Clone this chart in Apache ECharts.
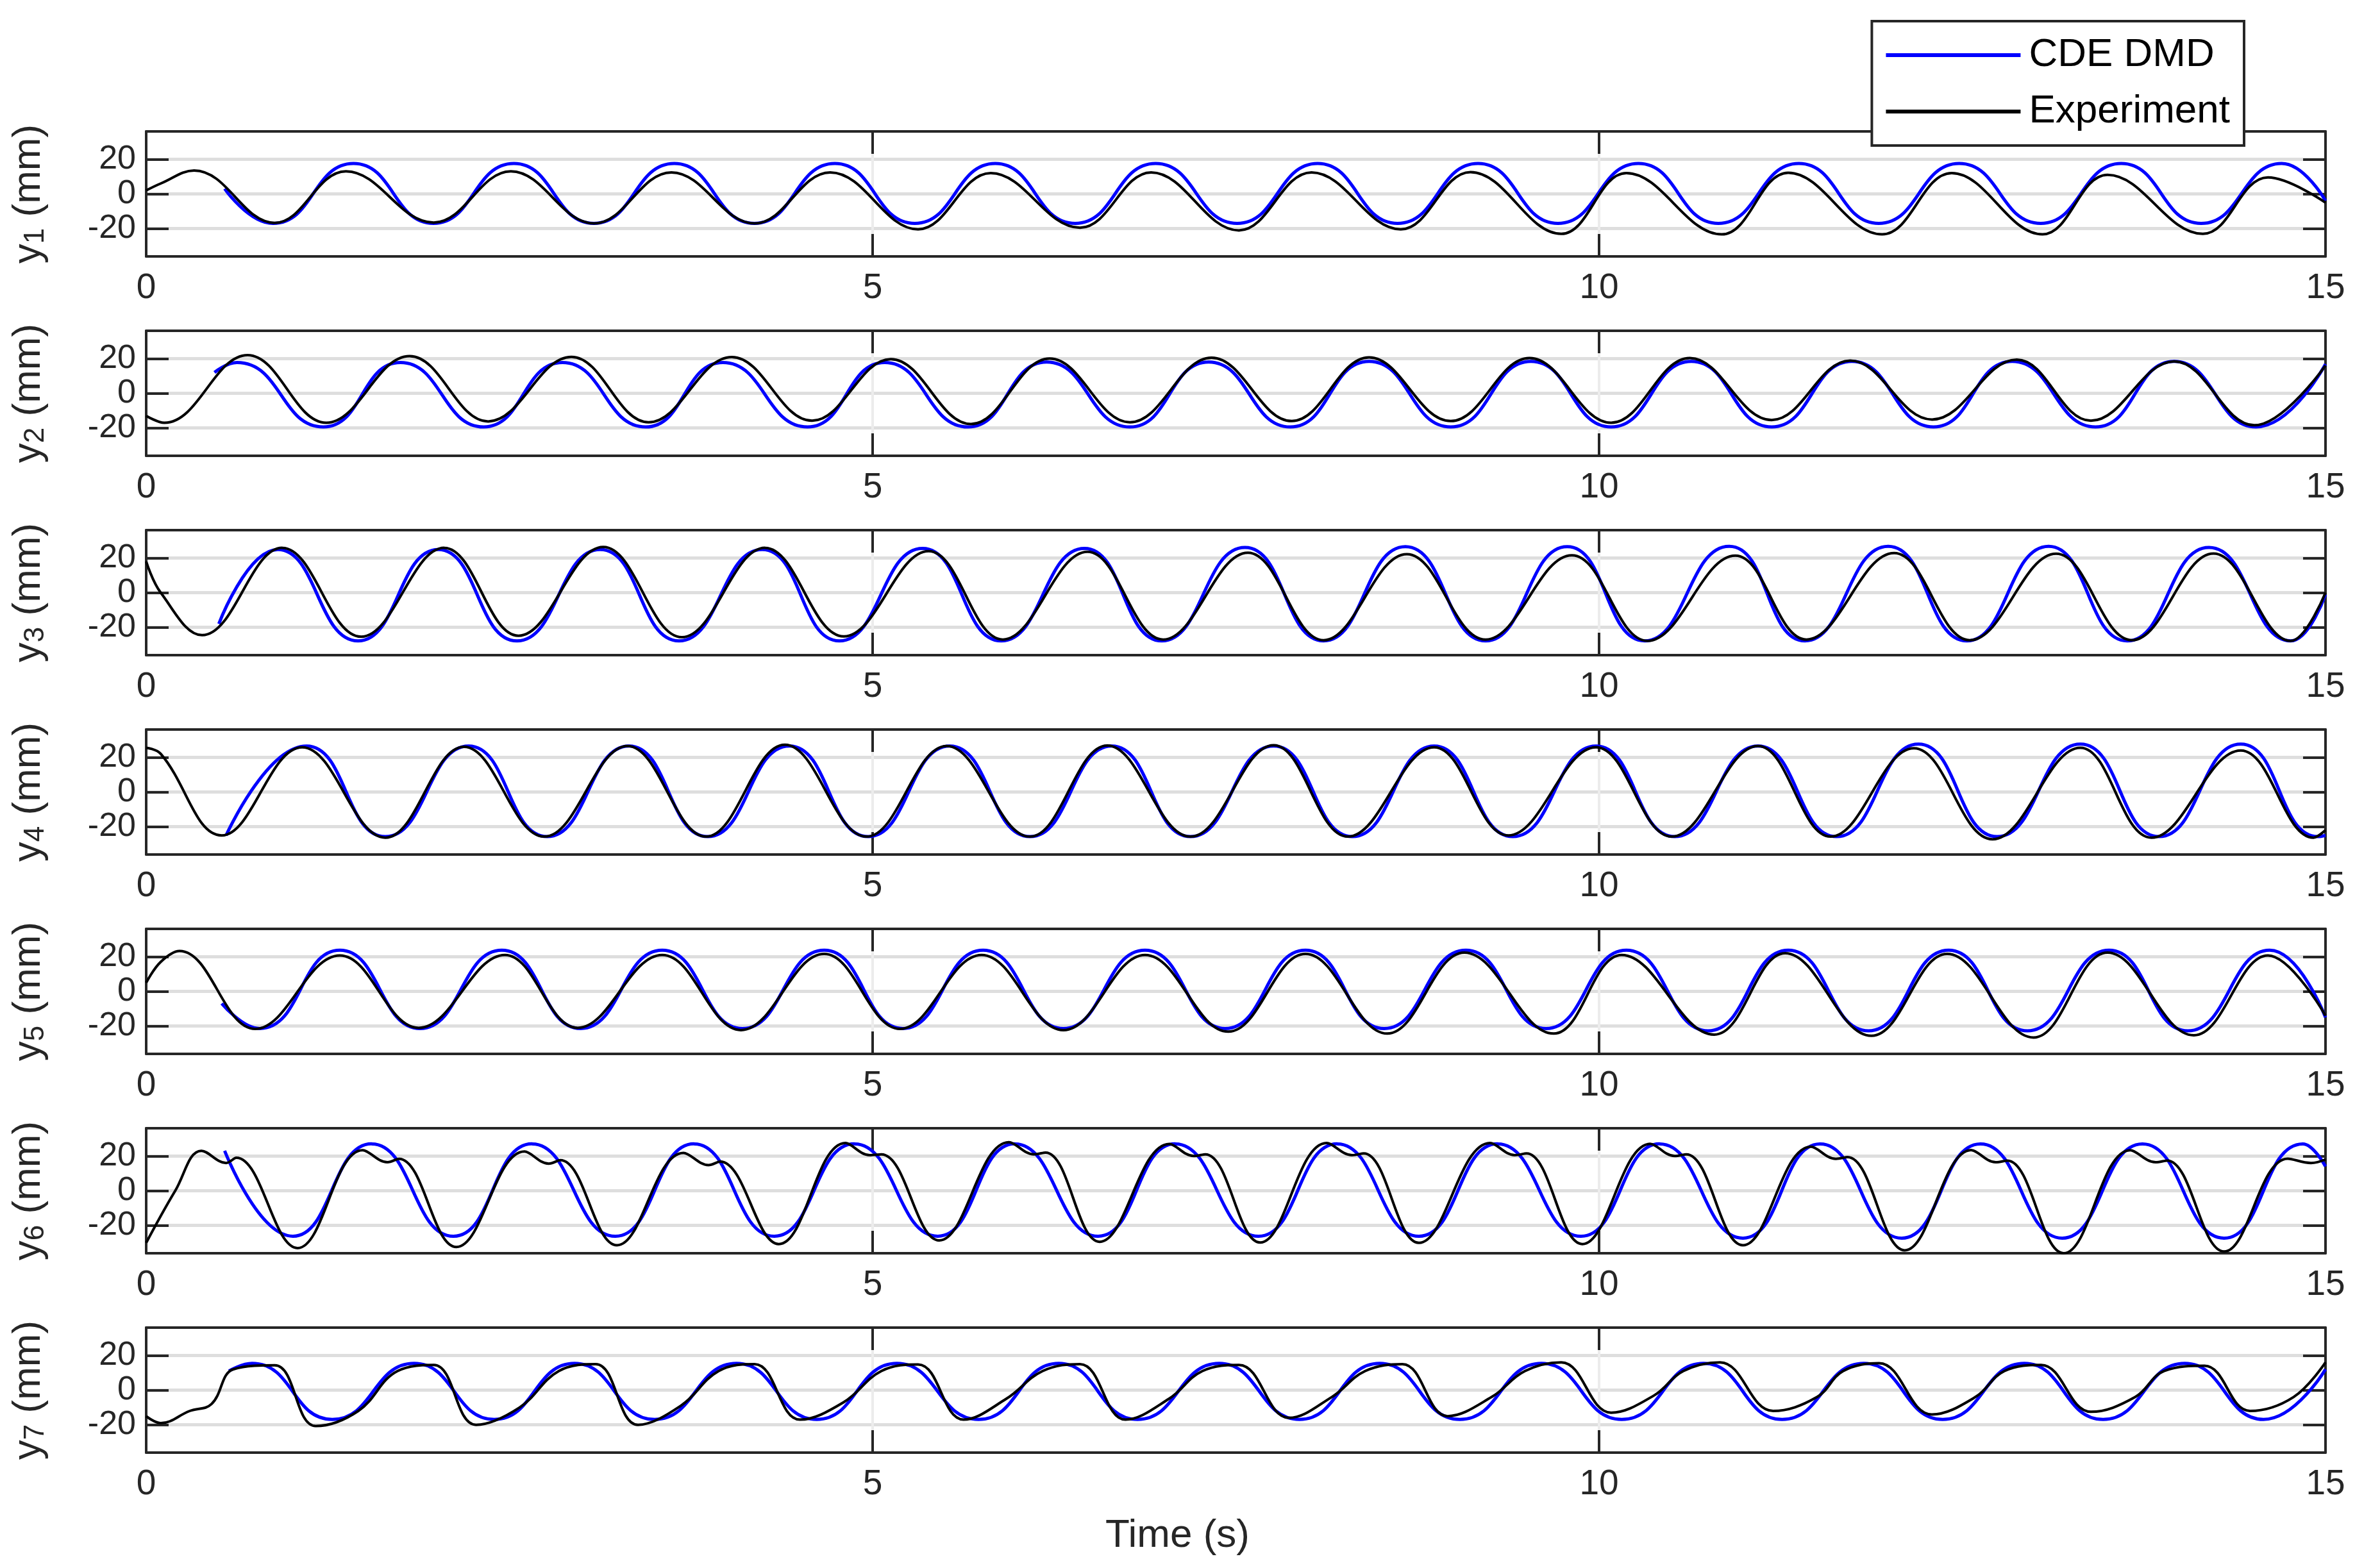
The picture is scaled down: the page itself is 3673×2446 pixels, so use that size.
<!DOCTYPE html>
<html>
<head>
<meta charset="utf-8">
<script src="https://cdn.jsdelivr.net/npm/echarts@6/dist/echarts.min.js"></script>
<style>html,body{margin:0;padding:0;background:#fff}#main{width:3673px;height:2446px}</style>
</head>
<body>
<div id="main"></div>
<script>
var chart = echarts.init(document.getElementById('main'));

// CDE DMD curves: [time (s), y (mm)] read at start, peaks, troughs, end
var b1 = [[0.54,3],[0.873,-17],[1.427,17.5],[1.977,-17],[2.531,17.5],[3.081,-17],[3.635,17.5],[4.186,-17],[4.74,17.5],[5.29,-17],[5.844,17.5],[6.394,-17],[6.948,17.5],[7.509,-17],[8.063,17.5],[8.613,-17],[9.167,17.5],[9.717,-17],[10.271,17.5],[10.821,-17],[11.375,17.5],[11.925,-17],[12.479,17.5],[13.04,-17],[13.594,17.5],[14.144,-17],[14.698,17.5],[15,-4]];
var b2 = [[0.47,12],[0.625,17.7],[1.219,-19.4],[1.75,17.7],[2.323,-19.4],[2.865,17.7],[3.438,-19.4],[3.969,17.7],[4.552,-19.4],[5.083,17.7],[5.656,-19.4],[6.198,18],[6.771,-19.4],[7.313,18],[7.875,-19.4],[8.417,18.4],[8.979,-19.4],[9.531,18.4],[10.083,-19.4],[10.635,18.4],[11.188,-19.4],[11.74,18.4],[12.302,-19.4],[12.844,18.4],[13.417,-19.4],[13.958,18.4],[14.521,-19.4],[15,16.8]];
var b3 = [[0.5,-18],[0.906,24.8],[1.458,-27.8],[2.01,24.8],[2.552,-27.8],[3.125,24.8],[3.667,-27.8],[4.24,24.8],[4.771,-27.8],[5.344,25.5],[5.885,-27.8],[6.458,25.5],[6.99,-27.8],[7.563,26],[8.104,-27.8],[8.667,26.5],[9.219,-27.8],[9.781,26.5],[10.313,-27.8],[10.896,26.7],[11.417,-27.8],[11.99,26.7],[12.531,-27.8],[13.094,26.7],[13.635,-27.8],[14.198,26],[14.76,-27.8],[15,-1]];
var b4 = [[0.55,-25],[1.104,26.5],[1.646,-25.7],[2.219,26.5],[2.76,-25.7],[3.323,26.5],[3.865,-25.7],[4.427,26.5],[4.969,-25.7],[5.531,26.5],[6.083,-25.7],[6.646,26.5],[7.188,-25.7],[7.76,26.5],[8.302,-25.7],[8.865,26.5],[9.406,-25.7],[9.979,26.5],[10.521,-25.7],[11.094,26.5],[11.635,-25.7],[12.198,27.6],[12.74,-25.7],[13.313,27.6],[13.854,-25.7],[14.417,27.6],[14.948,-25.7],[15,-25]];
var b5 = [[0.52,-7],[0.781,-21.4],[1.333,23.7],[1.885,-21.4],[2.448,23.7],[2.99,-21.4],[3.552,23.7],[4.104,-21.4],[4.667,23.7],[5.208,-21.4],[5.76,23.7],[6.313,-21.4],[6.875,23.7],[7.427,-21.4],[7.979,23.7],[8.521,-21.4],[9.083,23.7],[9.635,-21.4],[10.188,23.7],[10.75,-22.7],[11.302,23.7],[11.854,-22.7],[12.406,23.7],[12.948,-22.7],[13.51,23.7],[14.052,-22.7],[14.615,23.7],[15,-15]];
var b6 = [[0.54,23],[1.01,-26.2],[1.552,27],[2.115,-26.2],[2.656,27],[3.229,-26.2],[3.771,27],[4.323,-26.2],[4.875,27],[5.448,-26.2],[5.979,27],[6.552,-26.2],[7.083,27],[7.656,-26.2],[8.198,27],[8.76,-26.2],[9.302,27],[9.875,-26.2],[10.417,27],[10.99,-27.3],[11.521,27],[12.083,-27.3],[12.625,27],[13.188,-27.3],[13.74,27],[14.302,-27.3],[14.844,27],[15,14]];
var b7 = [[0.57,11],[0.729,15.4],[1.281,-16.9],[1.844,15.4],[2.396,-16.9],[2.948,15.4],[3.5,-16.9],[4.063,15.4],[4.615,-16.9],[5.167,15.4],[5.729,-16.9],[6.281,15.4],[6.823,-16.9],[7.385,15.4],[7.938,-16.9],[8.49,15.4],[9.042,-16.9],[9.604,15.4],[10.156,-16.9],[10.719,15.4],[11.26,-16.9],[11.823,15.4],[12.365,-16.9],[12.927,15.4],[13.469,-16.9],[14.031,15.4],[14.573,-16.9],[15,12]];

// Experiment curves
var e1 = [[0,2],[0.1,6],[0.33,13.5],[0.885,-16.7],[1.375,13],[1.979,-16.5],[2.51,13],[3.083,-17],[3.615,12.4],[4.188,-17],[4.708,12.4],[5.313,-20.4],[5.813,12],[6.427,-19.5],[6.917,12.4],[7.521,-21],[8.021,12.4],[8.635,-20.4],[9.115,12.6],[9.74,-23],[10.188,12],[10.844,-23.3],[11.302,12.2],[11.948,-23.3],[12.427,12],[13.052,-23.3],[13.5,11],[14.156,-23],[14.604,9.5],[15,-5]];
var e2 = [[0,-13],[0.125,-17],[0.698,22],[1.24,-17],[1.813,21.4],[2.354,-16.2],[2.927,21],[3.458,-16.7],[4.031,20.9],[4.583,-15.8],[5.125,19.7],[5.677,-17.7],[6.219,20],[6.771,-16.7],[7.333,20.5],[7.885,-16],[8.417,20.7],[8.979,-16],[9.521,20.3],[10.083,-17],[10.625,20.3],[11.188,-15.4],[11.729,18.8],[12.292,-15.1],[12.875,19.4],[13.385,-15.8],[13.958,18.4],[14.51,-18.4],[15,16]];
var e3 = [[0,18],[0.1,0],[0.385,-24.5],[0.9375,25.8],[1.479,-25.4],[2.052,25.8],[2.5625,-24.8],[3.146,26.3],[3.6875,-25.7],[4.26,25.8],[4.802,-25.2],[5.385,23.9],[5.896,-27],[6.479,23.5],[7.0,-27],[7.583,23],[8.104,-27.4],[8.677,22.2],[9.219,-27],[9.813,21.5],[10.333,-27.8],[10.938,21.3],[11.427,-27],[12.031,22.8],[12.552,-27.4],[13.146,22.4],[13.667,-27.4],[14.229,22.5],[14.76,-27.8],[15,0]];
var e4 = [[0,25.5],[0.1,22],[0.52,-25],[1.073,25.8],[1.646,-26.3],[2.1875,26],[2.74,-25.7],[3.3125,26.5],[3.854,-25.7],[4.396,27.2],[4.958,-25.7],[5.51,26.5],[6.083,-25.7],[6.615,26.8],[7.188,-25.7],[7.76,27],[8.271,-25.7],[8.865,25.8],[9.375,-25],[9.979,25.8],[10.5,-25.7],[11.094,26.5],[11.594,-25.7],[12.167,25.2],[12.708,-27.2],[13.313,25.5],[13.802,-26.3],[14.417,23.9],[14.917,-26.3],[15,-22]];
var e5 = [[0,5],[0.1,17],[0.23,23.3],[0.75,-21.6],[1.333,20.7],[1.875,-21],[2.469,21],[2.969,-21],[3.552,21],[4.094,-22.3],[4.667,21.6],[5.188,-21.6],[5.75,21],[6.313,-22.3],[6.875,21],[7.448,-23.2],[7.979,21.6],[8.542,-24.3],[9.073,22.3],[9.688,-24.3],[10.156,21],[10.792,-24.9],[11.281,22],[11.875,-25.6],[12.396,21.6],[12.99,-26.6],[13.5,22.3],[14.094,-25.3],[14.604,20.7],[15,-14]];
var e6 = [[0,-30],[0.2,0],[0.38,23],[0.55,16],[0.62,19],[1.042,-33],[1.49,23.4],[1.66,16.4],[1.74,18.4],[2.135,-32.4],[2.604,22.6],[2.77,15.6],[2.85,17.6],[3.24,-31.4],[3.698,21.8],[3.87,14.8],[3.95,16.8],[4.354,-30.7],[4.813,27.5],[4.98,20.5],[5.06,21],[5.458,-28.6],[5.938,28],[6.11,21],[6.19,22],[6.563,-29.4],[7.042,27],[7.21,20],[7.29,21],[7.667,-29.8],[8.125,27.5],[8.3,20.5],[8.38,21.5],[8.76,-30],[9.25,27.5],[9.42,20.5],[9.5,21.5],[9.885,-30.7],[10.354,27],[10.52,20],[10.6,21],[10.99,-31.4],[11.458,25.4],[11.63,18.4],[11.71,19.4],[12.104,-34.3],[12.563,23.4],[12.73,16.4],[12.81,17.4],[13.198,-36],[13.656,23.4],[13.83,16.4],[13.91,17.4],[14.302,-35],[14.74,18.5],[14.9,16],[15,18]];
var e7 = [[0,-15],[0.1,-19],[0.3,-12],[0.45,-8],[0.6,12],[0.885,14.3],[1.167,-20.7],[1.46,-12],[1.73,11],[1.98,14.5],[2.27,-20],[2.57,-10],[2.84,11],[3.094,15],[3.385,-20],[3.68,-9],[3.94,11],[4.188,15],[4.5,-17],[4.8,-7],[5.06,11],[5.313,14.8],[5.625,-17],[5.92,-5],[6.17,11],[6.427,15],[6.74,-17],[7.04,-5],[7.27,11],[7.521,14.5],[7.865,-16],[8.16,-4],[8.39,11],[8.646,15],[8.958,-15],[9.26,-4],[9.49,11],[9.74,16],[10.083,-13],[10.38,-3],[10.58,11],[10.833,16],[11.198,-12],[11.5,-4],[11.68,11],[11.927,15.5],[12.29,-14],[12.59,-4],[12.79,11],[13.042,14.5],[13.385,-12.5],[13.69,-4],[13.89,11],[14.167,14],[14.48,-12],[14.78,-4],[15,16]];

var dmd = [b1, b2, b3, b4, b5, b6, b7];
var exper = [e1, e2, e3, e4, e5, e6, e7];
var yTicks = [-20, 0, 20];

var txt = '#262626';
var font = 'Liberation Sans';
var grids = [], xAxes = [], yAxes = [], series = [];

for (var i = 0; i < 7; i++) {
    var gridTop = 205 + i * 311;
    grids.push({left: 228, right: 46, top: gridTop, height: 195});
    // bottom x axis with labels
    xAxes.push({
        type: 'value', gridIndex: i, min: 0, max: 15, interval: 5,
        axisLine: {onZero: false, lineStyle: {color: txt, width: 4}},
        axisTick: {inside: true, length: 35, lineStyle: {color: txt, width: 4}},
        axisLabel: {color: txt, fontSize: 55, fontFamily: font, margin: 22},
        splitLine: {show: true, lineStyle: {color: '#ececec', width: 4}}
    });
    // top x axis, frame only
    xAxes.push({
        type: 'value', gridIndex: i, min: 0, max: 15, interval: 5, position: 'top',
        axisLine: {onZero: false, lineStyle: {color: txt, width: 4}},
        axisTick: {inside: true, length: 35, lineStyle: {color: txt, width: 4}},
        axisLabel: {show: false}, splitLine: {show: false}
    });
    yAxes.push({
        type: 'value', gridIndex: i, min: -36, max: 36,
        name: '{a|y}{s|' + (i + 1) + '}{a| (mm)}',
        nameLocation: 'middle', nameRotate: 90, nameGap: 150,
        nameTextStyle: {
            rich: {
                a: {fontSize: 62, fontFamily: font, color: txt},
                s: {fontSize: 44, fontFamily: font, color: txt, verticalAlign: 'bottom', padding: [22, 0, 0, 0]}
            }
        },
        axisLine: {onZero: false, lineStyle: {color: txt, width: 4}},
        axisTick: {inside: true, length: 35, customValues: yTicks, lineStyle: {color: txt, width: 4}},
        axisLabel: {color: txt, fontSize: 52, lineHeight: 36, fontFamily: font, margin: 16, customValues: yTicks,
            interval: 0, hideOverlap: false, showMinLabel: true, showMaxLabel: true},
        splitLine: {show: true, lineStyle: {color: '#dedede', width: 5}}
    });
    yAxes.push({
        type: 'value', gridIndex: i, min: -36, max: 36, position: 'right',
        axisLine: {show: true, onZero: false, lineStyle: {color: txt, width: 4}},
        axisTick: {show: true, inside: true, length: 35, customValues: yTicks, lineStyle: {color: txt, width: 4}},
        axisLabel: {show: false}, splitLine: {show: false}
    });
    series.push({
        name: 'CDE DMD', type: 'line', xAxisIndex: 2 * i, yAxisIndex: 2 * i,
        data: dmd[i], smooth: 0.5, showSymbol: false, symbol: 'none',
        lineStyle: {color: '#0000ff', width: 5}, itemStyle: {color: '#0000ff'}, z: 3
    });
    series.push({
        name: 'Experiment', type: 'line', xAxisIndex: 2 * i, yAxisIndex: 2 * i,
        data: exper[i], smooth: 0.4, showSymbol: false, symbol: 'none',
        lineStyle: {color: '#000000', width: 4}, itemStyle: {color: '#000000'}, z: 4
    });
}

chart.setOption({
    backgroundColor: '#fff',
    animation: false,
    grid: grids,
    xAxis: xAxes,
    yAxis: yAxes,
    legend: {
        data: ['CDE DMD', 'Experiment'],
        orient: 'vertical', right: 173, top: 33,
        icon: 'rect', itemWidth: 210, itemHeight: 6, itemGap: 26,
        padding: [22, 22, 22, 22],
        borderColor: txt, borderWidth: 4, backgroundColor: '#fff',
        textStyle: {fontSize: 62, fontFamily: font, color: '#000', padding: [0, 0, 0, 8]},
        z: 10
    },
    graphic: [{
        type: 'text', left: 'center', top: 2365,
        style: {text: 'Time (s)', fontSize: 62, fontFamily: font, fill: txt}
    }],
    series: series
});
</script>
</body>
</html>
